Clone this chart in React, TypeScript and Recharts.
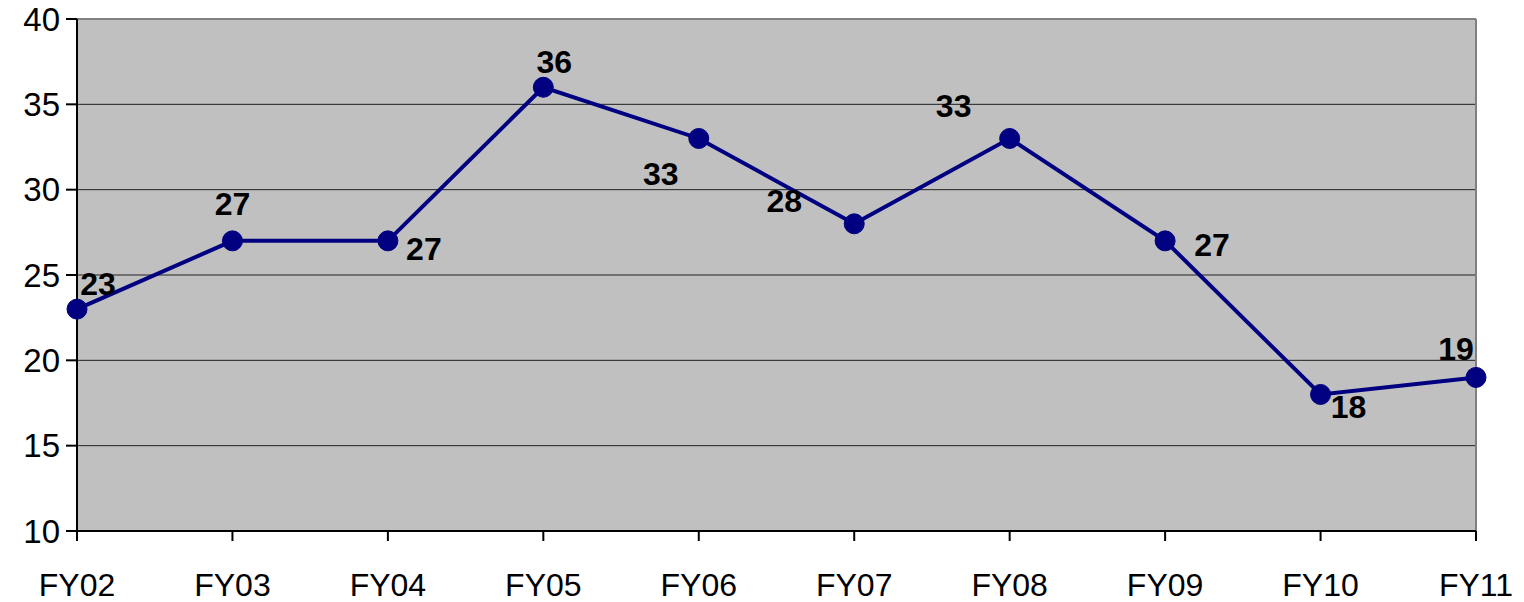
import { LineChart, Line, XAxis, YAxis, CartesianGrid, ReferenceLine, LabelList } from 'recharts';

const years = ['FY02', 'FY03', 'FY04', 'FY05', 'FY06', 'FY07', 'FY08', 'FY09', 'FY10', 'FY11'];
const values = [23, 27, 27, 36, 33, 28, 33, 27, 18, 19];
const yTicks = [10, 15, 20, 25, 30, 35, 40];

// where each value label sits relative to its point
const labelOffsets = [
    [21, -25], [0, -37], [36, 8], [11, -25], [-38, 36],
    [-70, -23], [-56, -32], [47, 4], [28, 13], [-20, -28],
];

const data = years.map((year, i) => ({ year, value: values[i] }));

const ValueLabel = (props: any) => {
    const { x, y, value, index } = props;
    const [dx, dy] = labelOffsets[index] || [0, -20];
    return (
        <text
            x={x + dx}
            y={y + dy}
            textAnchor="middle"
            dominantBaseline="central"
            fontFamily="Liberation Sans, Arial, sans-serif"
            fontWeight="bold"
            fontSize={32}
            fill="#000"
        >
            {value}
        </text>
    );
};

export default function App() {
    return (
        <div style={{ width: 1524, height: 602 }}>
            <style>{`body{margin:0}`}</style>
            <LineChart
                width={1524}
                height={602}
                data={data}
                margin={{ top: 19, right: 48, left: 0, bottom: 0 }}
                style={{ fontFamily: 'Liberation Sans, Arial, sans-serif' }}
            >
                <CartesianGrid vertical={false} fill="#C0C0C0" stroke="#202020" strokeWidth={1} />
                <ReferenceLine y={40} stroke="#808080" strokeWidth={2} />
                <ReferenceLine x="FY11" stroke="#808080" strokeWidth={2} />
                <XAxis
                    dataKey="year"
                    height={71}
                    stroke="#000"
                    strokeWidth={2}
                    tickSize={10}
                    tickMargin={32}
                    tick={{ fill: '#000', fontSize: 32 }}
                    interval={0}
                />
                <YAxis
                    width={77}
                    domain={[10, 40]}
                    ticks={yTicks}
                    stroke="#000"
                    strokeWidth={2}
                    tickSize={11}
                    tickMargin={6}
                    tick={{ fill: '#000', fontSize: 33 }}
                    allowDataOverflow
                />
                <Line
                    type="linear"
                    dataKey="value"
                    stroke="#000080"
                    strokeWidth={4}
                    dot={{ r: 10, fill: '#000080', stroke: '#000080', strokeWidth: 1 }}
                    isAnimationActive={false}
                >
                    <LabelList dataKey="value" content={<ValueLabel />} />
                </Line>
            </LineChart>
        </div>
    );
}
